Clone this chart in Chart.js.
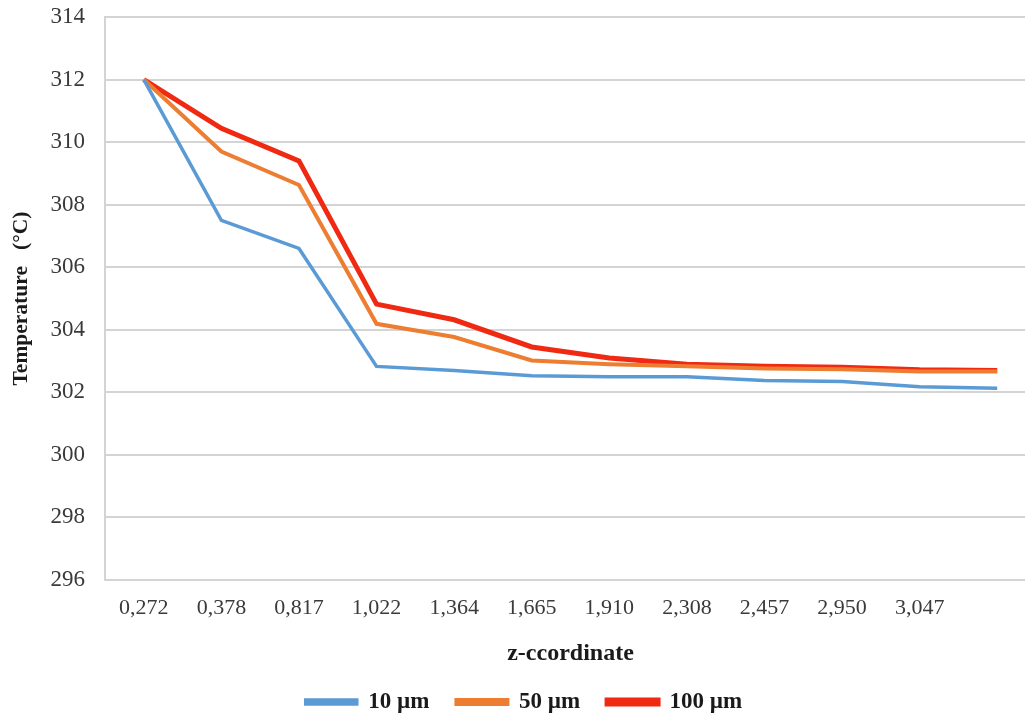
<!DOCTYPE html>
<html>
<head>
<meta charset="utf-8">
<script src="https://cdn.jsdelivr.net/npm/chart.js@4/dist/chart.umd.min.js"></script>
<style>
  html, body { margin: 0; padding: 0; background: #ffffff; overflow: hidden; }
  #wrap { position: relative; width: 1036px; height: 715px; }
</style>
</head>
<body>
<div id="wrap"><canvas id="c"></canvas></div>
<script>
const categories = ['0,272','0,378','0,817','1,022','1,364','1,665','1,910','2,308','2,457','2,950','3,047',''];
const series10  = [312.0, 307.5, 306.6, 302.83, 302.7, 302.53, 302.5, 302.5, 302.38, 302.35, 302.18, 302.13];
const series50  = [312.0, 309.7, 308.63, 304.19, 303.77, 303.02, 302.9, 302.83, 302.76, 302.74, 302.67, 302.67];
const series100 = [312.0, 310.44, 309.4, 304.82, 304.32, 303.45, 303.1, 302.9, 302.83, 302.8, 302.72, 302.7];
const seriesNames = ['10 µm', '50 µm', '100 µm'];
const yMin = 296, yMax = 314, yStep = 2;

const serif = '"Liberation Serif", "Times New Roman", serif';

new Chart(document.getElementById('c'), {
  type: 'line',
  data: {
    labels: categories,
    datasets: [
      { label: seriesNames[0], data: series10,  borderColor: '#5B9BD5', backgroundColor: '#5B9BD5', borderWidth: 3.5, pointRadius: 0, tension: 0 },
      { label: seriesNames[1], data: series50,  borderColor: '#ED7D31', backgroundColor: '#ED7D31', borderWidth: 4,   pointRadius: 0, tension: 0 },
      { label: seriesNames[2], data: series100, borderColor: '#F02A12', backgroundColor: '#F02A12', borderWidth: 5,   pointRadius: 0, tension: 0 }
    ]
  },
  options: {
    responsive: true,
    maintainAspectRatio: false,
    animation: false,
    layout: { padding: { top: 17, right: 0, bottom: -8.5, left: 12 } },
    plugins: {
      tooltip: { enabled: false },
      legend: {
        position: 'bottom',
        labels: {
          boxWidth: 51,
          boxHeight: 4,
          padding: 27,
          color: '#1a1a1a',
          font: { family: serif, size: 23, weight: 'bold' }
        }
      }
    },
    scales: {
      x: {
        type: 'category',
        offset: true,
        grid: { display: false, drawTicks: false },
        border: { display: true, color: '#d4d4d4', width: 2 },
        ticks: {
          color: '#3a3a3a',
          padding: 15,
          maxRotation: 0,
          autoSkip: false,
          font: { family: serif, size: 22 }
        },
        title: {
          display: true,
          text: 'z-ccordinate',
          color: '#1a1a1a',
          padding: { top: 0, bottom: -5 },
          font: { family: serif, size: 24, weight: 'bold' }
        },
        afterFit: (s) => { s.height = 83.5; s.paddingLeft = 0; s.paddingRight = 0; }
      },
      y: {
        min: yMin,
        max: yMax,
        ticks: {
          stepSize: yStep,
          color: '#3a3a3a',
          padding: 20,
          font: { family: serif, size: 23 }
        },
        grid: { color: '#d4d4d4', lineWidth: 2, drawTicks: false },
        border: { display: true, color: '#d4d4d4', width: 2 },
        title: {
          display: true,
          text: 'Temperature   (°C)',
          color: '#1a1a1a',
          padding: { top: -3, bottom: 0 },
          font: { family: serif, size: 21.5, weight: 'bold' }
        },
        afterFit: (s) => { s.width = 93; s.paddingTop = 0; s.paddingBottom = 0; }
      }
    }
  }
});
</script>
</body>
</html>
